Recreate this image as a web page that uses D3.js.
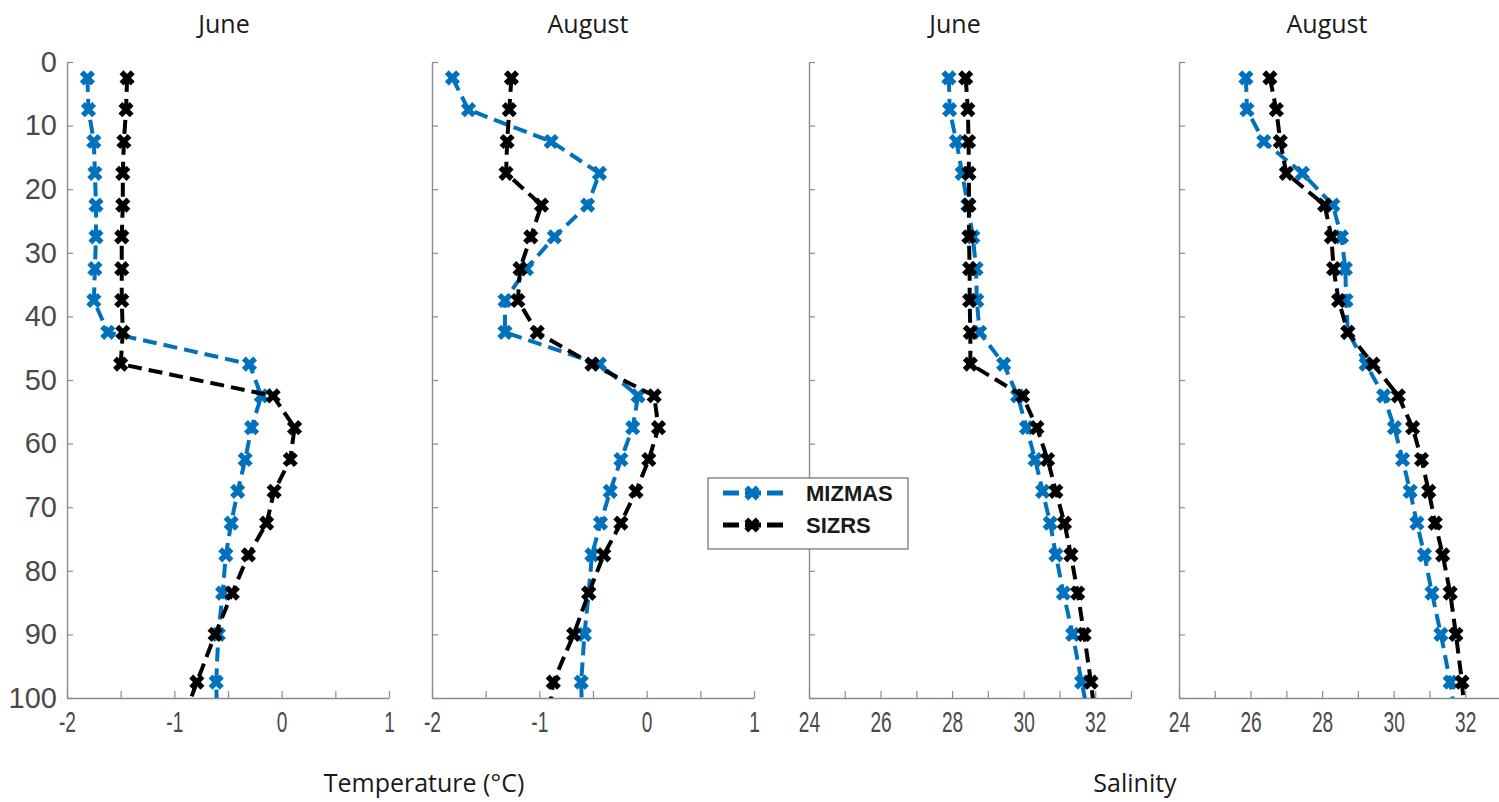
<!DOCTYPE html>
<html>
<head>
<meta charset="utf-8">
<script src="https://cdn.jsdelivr.net/npm/d3@7"></script>
<style>
  body { margin: 0; background: #fff; }
  svg { display: block; }
</style>
</head>
<body>
<svg id="chart" width="1499" height="802"></svg>
<script>
// Depth of each bin (m); the last bin lies just below the 100 m axis limit.
const depths = [2.5, 7.5, 12.5, 17.5, 22.5, 27.5, 32.5, 37.5, 42.5, 47.5,
                52.5, 57.5, 62.5, 67.5, 72.5, 77.5, 83.5, 90, 97.5, 104];

// Temperature (°C)
const juneTempMIZMAS = [-1.81, -1.80, -1.75, -1.74, -1.73, -1.73, -1.74, -1.75, -1.62, -0.30,
                        -0.19, -0.28, -0.34, -0.41, -0.47, -0.52, -0.55, -0.59, -0.61, -0.60];
const juneTempSIZRS  = [-1.44, -1.45, -1.47, -1.48, -1.48, -1.49, -1.49, -1.49, -1.48, -1.50,
                        -0.08, 0.12, 0.08, -0.07, -0.14, -0.31, -0.46, -0.62, -0.79, -0.93];
const augTempMIZMAS  = [-1.81, -1.66, -0.89, -0.44, -0.55, -0.86, -1.12, -1.32, -1.32, -0.44,
                        -0.08, -0.13, -0.24, -0.34, -0.43, -0.51, -0.54, -0.58, -0.61, -0.60];
const augTempSIZRS   = [-1.26, -1.28, -1.30, -1.31, -0.98, -1.08, -1.18, -1.20, -1.02, -0.51,
                        0.07, 0.11, 0.02, -0.10, -0.24, -0.40, -0.54, -0.68, -0.87, -0.92];

// Salinity
const juneSalMIZMAS = [27.91, 27.93, 28.12, 28.28, 28.44, 28.58, 28.67, 28.69, 28.77, 29.44,
                       29.83, 30.08, 30.32, 30.53, 30.74, 30.90, 31.11, 31.37, 31.62, 31.85];
const juneSalSIZRS  = [28.38, 28.44, 28.46, 28.47, 28.47, 28.47, 28.49, 28.49, 28.51, 28.51,
                       29.97, 30.37, 30.67, 30.90, 31.14, 31.32, 31.51, 31.69, 31.88, 32.02];
const augSalMIZMAS  = [25.87, 25.90, 26.37, 27.45, 28.30, 28.54, 28.65, 28.67, 28.72, 29.23,
                       29.72, 30.02, 30.25, 30.46, 30.65, 30.86, 31.07, 31.32, 31.58, 31.75];
const augSalSIZRS   = [26.54, 26.72, 26.83, 27.00, 28.07, 28.26, 28.32, 28.46, 28.72, 29.42,
                       30.13, 30.53, 30.78, 30.98, 31.16, 31.37, 31.58, 31.74, 31.91, 32.00];

const panelTitles = ["June", "August", "June", "August"];
const seriesNames = ["MIZMAS", "SIZRS"];
const seriesColors = ["#0072bd", "#000000"];

const depthDomain = [0, 100];
const depthTicks = [0, 10, 20, 30, 40, 50, 60, 70, 80, 90, 100];
const tempDomain = [-2, 1];
const tempTicks = [-2, -1.5, -1, -0.5, 0, 0.5, 1];
const salDomain = [24, 33];
const salTicks = [24, 25, 26, 27, 28, 29, 30, 31, 32, 33];

const panels = [
  { title: panelTitles[0], domain: tempDomain, ticks: tempTicks, series: [juneTempMIZMAS, juneTempSIZRS], labelEvery: 1, yLabels: true },
  { title: panelTitles[1], domain: tempDomain, ticks: tempTicks, series: [augTempMIZMAS, augTempSIZRS], labelEvery: 1, yLabels: false },
  { title: panelTitles[2], domain: salDomain, ticks: salTicks, series: [juneSalMIZMAS, juneSalSIZRS], labelEvery: 2, yLabels: false },
  { title: panelTitles[3], domain: salDomain, ticks: salTicks, series: [augSalMIZMAS, augSalSIZRS], labelEvery: 2, yLabels: false }
];

// Layout
const panelLeft = [67, 432, 809, 1179];
const panelWidth = 322;
const titleX = [224, 588, 955, 1327];
const plotTop = 62, plotBottom = 698;
const axisColor = "#8c8c8c";
const labelColor = "#4a4a4a";

const svg = d3.select("#chart");
const y = d3.scaleLinear().domain(depthDomain).range([plotTop, plotBottom]);

const lineStyle = { width: 4, dash: "14,7" };
const markerStroke = 5.5;
const marker = d3.symbol().type(d3.symbolX).size(85);
const defs = svg.append("defs");

panels.forEach((p, i) => {
  const x0 = panelLeft[i];
  const x = d3.scaleLinear().domain(p.domain).range([x0, x0 + panelWidth]);
  const g = svg.append("g");

  // clip region for the profiles
  const clipId = "clip" + i;
  defs.append("clipPath").attr("id", clipId)
    .append("rect")
    .attr("x", x0).attr("y", plotTop - 10)
    .attr("width", panelWidth + 10).attr("height", plotBottom - plotTop + 10);

  // bottom axis (ticks pointing inward)
  const xAxis = d3.axisBottom(x)
    .tickValues(p.ticks)
    .tickSizeInner(-7).tickSizeOuter(0).tickPadding(13)
    .tickFormat(d => (Number.isInteger(d) && ((d - p.domain[0]) % p.labelEvery === 0) && d <= p.domain[0] + 8) ? String(d) : "");
  const gx = g.append("g").attr("transform", `translate(0,${plotBottom})`).call(xAxis);
  gx.select(".domain").attr("stroke", axisColor).attr("stroke-width", 1.4);
  gx.selectAll(".tick line").attr("stroke", axisColor).attr("stroke-width", 1.2);
  gx.selectAll(".tick text")
    .attr("fill", labelColor)
    .style("font-family", "'Liberation Sans', Arial, sans-serif")
    .style("font-size", "29px")
    .attr("transform", "scale(0.66,1)");

  // left axis (ticks pointing inward)
  const yAxis = d3.axisLeft(y)
    .tickValues(depthTicks)
    .tickSizeInner(-6).tickSizeOuter(0).tickPadding(10)
    .tickFormat(d => p.yLabels ? String(d) : "");
  const gy = g.append("g").attr("transform", `translate(${x0},0)`).call(yAxis);
  gy.select(".domain").attr("stroke", axisColor).attr("stroke-width", 1.4);
  gy.selectAll(".tick line").attr("stroke", axisColor).attr("stroke-width", 1.2);
  gy.selectAll(".tick text")
    .attr("fill", labelColor)
    .style("font-family", "'Liberation Sans', Arial, sans-serif")
    .style("font-size", "29px");

  // panel title
  svg.append("text")
    .attr("x", titleX[i]).attr("y", 33)
    .attr("text-anchor", "middle")
    .style("font-family", "'Open Sans', sans-serif")
    .style("font-size", "25px")
    .attr("fill", "#1a1a1a")
    .text(p.title);

  // profiles
  const plot = g.append("g").attr("clip-path", `url(#${clipId})`);
  p.series.forEach((vals, s) => {
    const pts = depths.map((d, k) => ({ depth: d, v: vals[k] }));
    const line = d3.line().x(d => x(d.v)).y(d => y(d.depth));
    plot.append("path")
      .datum(pts)
      .attr("d", line)
      .attr("fill", "none")
      .attr("stroke", seriesColors[s])
      .attr("stroke-width", lineStyle.width)
      .attr("stroke-dasharray", lineStyle.dash);
    plot.selectAll(null)
      .data(pts)
      .enter().append("path")
      .attr("d", marker)
      .attr("transform", d => `translate(${x(d.v)},${y(d.depth)})`)
      .attr("fill", "none")
      .attr("stroke", seriesColors[s])
      .attr("stroke-width", markerStroke);
  });
});

// shared axis titles
const axisTitleFont = "'Open Sans', sans-serif";
svg.append("text")
  .attr("x", 424).attr("y", 792)
  .attr("text-anchor", "middle")
  .style("font-family", axisTitleFont).style("font-size", "25px")
  .attr("fill", "#1a1a1a")
  .text("Temperature (°C)");
svg.append("text")
  .attr("x", 1135).attr("y", 792)
  .attr("text-anchor", "middle")
  .style("font-family", axisTitleFont).style("font-size", "25px")
  .attr("fill", "#1a1a1a")
  .text("Salinity");

// legend
const legend = svg.append("g");
legend.append("rect")
  .attr("x", 708).attr("y", 478)
  .attr("width", 200).attr("height", 71)
  .attr("fill", "#fff")
  .attr("stroke", "#6e6e6e").attr("stroke-width", 1.2);
seriesNames.forEach((name, s) => {
  const ly = 493 + s * 32;
  legend.append("line")
    .attr("x1", 723).attr("x2", 787)
    .attr("y1", ly).attr("y2", ly)
    .attr("stroke", seriesColors[s])
    .attr("stroke-width", lineStyle.width + 1)
    .attr("stroke-dasharray", "16,6");
  legend.append("path")
    .attr("d", marker)
    .attr("transform", `translate(752,${ly})`)
    .attr("fill", "none")
    .attr("stroke", seriesColors[s])
    .attr("stroke-width", markerStroke);
  legend.append("text")
    .attr("x", 806).attr("y", ly)
    .attr("dy", "0.36em")
    .style("font-family", "'Liberation Sans', Arial, sans-serif")
    .style("font-weight", "bold")
    .style("font-size", "22px")
    .attr("fill", "#1a1a1a")
    .text(name);
});
</script>
</body>
</html>
